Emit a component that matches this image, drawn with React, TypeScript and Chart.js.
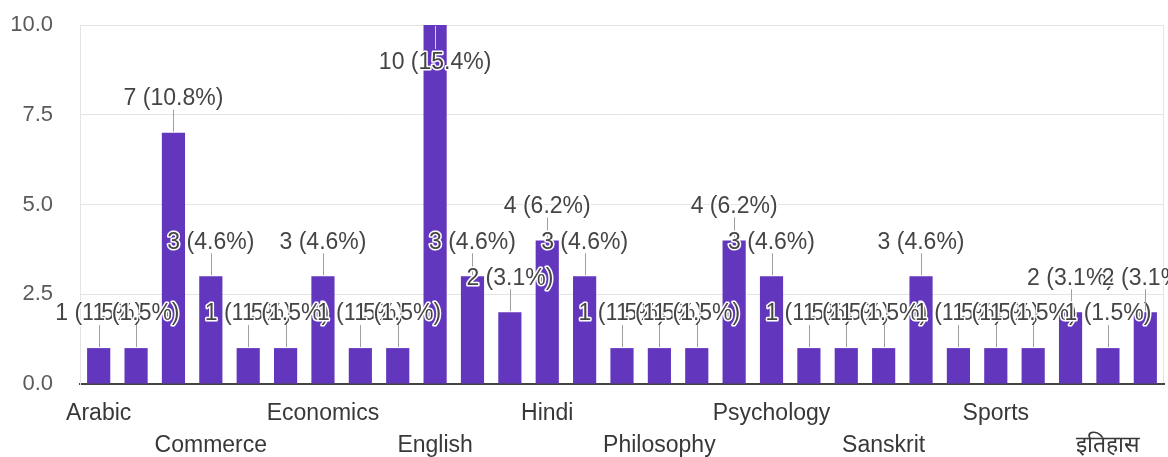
import React, { useEffect, useRef } from "react";
import { Chart, registerables } from "chart.js";

Chart.register(...registerables);

// Categories (only every third one is readable/shown on the axis)
const subjects: string[] = [
  "Arabic", "Bengali", "Chemistry",
  "Commerce", "Computer Science", "Drawing",
  "Economics", "Education", "Electronics",
  "English", "French", "Geography",
  "Hindi", "History", "Music",
  "Philosophy", "Physics", "Political Science",
  "Psychology", "Public Administration", "Punjabi",
  "Sanskrit", "Sociology", "Spanish",
  "Sports", "Statistics", "Urdu",
  "इतिहास", "हिंदी",
];

const counts: number[] = [
  1, 1, 7,
  3, 1, 1,
  3, 1, 1,
  10, 3, 2,
  4, 3, 1,
  1, 1, 4,
  3, 1, 1,
  1, 3, 1,
  1, 1, 2,
  1, 2,
];

const yTicks: number[] = [0, 2.5, 5, 7.5, 10];

const FONT = '"Liberation Sans", Arial, sans-serif';
const BAR_COLOR = "#6236bd";

const total = counts.reduce((a, b) => a + b, 0);

const labelPlugin = {
  id: "annotLabels",
  beforeDraw(chart: any) {
    const { ctx, chartArea } = chart;
    ctx.save();
    ctx.strokeStyle = "#e4e4e4";
    ctx.lineWidth = 1;
    ctx.beginPath();
    ctx.moveTo(Math.round(chartArea.right) - 0.5, chartArea.top);
    ctx.lineTo(Math.round(chartArea.right) - 0.5, chartArea.bottom);
    ctx.stroke();
    ctx.restore();
  },
  afterDatasetsDraw(chart: any) {
    const { ctx, chartArea } = chart;
    const meta = chart.getDatasetMeta(0);
    ctx.save();
    ctx.font = `23px ${FONT}`;
    ctx.textAlign = "center";
    ctx.textBaseline = "middle";
    ctx.lineJoin = "round";
    meta.data.forEach((bar: any, i: number) => {
      const v = counts[i];
      const pct = ((v / total) * 100).toFixed(1);
      const text = `${v} (${pct}%)`;
      const x = bar.x;
      const top = bar.y;
      let cy = top - 34;
      let inside = false;
      if (cy - 12 < chartArea.top) {
        inside = true;
        cy = top + 38;
      }
      ctx.lineWidth = 1;
      ctx.strokeStyle = inside ? "rgba(255,255,255,0.75)" : "#a0a0a0";
      ctx.beginPath();
      const xx = Math.round(x) + 0.5;
      if (inside) {
        ctx.moveTo(xx, top + 1);
        ctx.lineTo(xx, top + 24);
      } else {
        ctx.moveTo(xx, top - 1);
        ctx.lineTo(xx, top - 23);
      }
      ctx.stroke();
      ctx.lineWidth = 3;
      ctx.strokeStyle = "#ffffff";
      ctx.strokeText(text, x, cy);
      ctx.fillStyle = "#454545";
      ctx.fillText(text, x, cy);
    });
    ctx.restore();
  },
};

export default function App() {
  const ref = useRef<HTMLCanvasElement | null>(null);

  useEffect(() => {
    if (!ref.current) return;
    const chart = new Chart(ref.current, {
      type: "bar",
      data: {
        labels: subjects,
        datasets: [
          {
            data: counts,
            backgroundColor: BAR_COLOR,
            borderWidth: 0,
            barPercentage: 0.62,
            categoryPercentage: 1,
          },
        ],
      },
      options: {
        responsive: false,
        animation: false,
        devicePixelRatio: 1,
        layout: { padding: { top: 25, right: 4, left: 0, bottom: 0 } },
        plugins: {
          legend: { display: false },
          tooltip: { enabled: false },
        },
        scales: {
          x: {
            afterFit: (s: any) => {
              s.height = 73;
              s.paddingLeft = 0;
              s.paddingRight = 0;
            },
            grid: { display: false, drawTicks: false },
            border: { display: true, color: "#444444", width: 2 },
            ticks: {
              autoSkip: false,
              maxRotation: 0,
              minRotation: 0,
              padding: 14,
              color: "#383838",
              font: { family: FONT, size: 23, lineHeight: 32 / 23 },
              callback: (_v: any, i: number) =>
                i % 3 !== 0 ? "" : i % 6 === 0 ? subjects[i] : ["", subjects[i]],
            },
          },
          y: {
            min: 0,
            max: 10,
            afterFit: (s: any) => {
              s.width = 80;
              s.paddingTop = 0;
              s.paddingBottom = 0;
            },
            afterBuildTicks: (s: any) => {
              s.ticks = yTicks.map((v) => ({ value: v }));
            },
            grid: {
              drawTicks: false,
              color: (c: any) => (c.tick && c.tick.value === 0 ? "rgba(0,0,0,0)" : "#e4e4e4"),
              lineWidth: 1,
            },
            border: { display: true, color: "#e4e4e4", width: 1 },
            ticks: {
              padding: 27,
              color: "#5a5a5a",
              font: { family: FONT, size: 22 },
              callback: (v: any) => Number(v).toFixed(1),
            },
          },
        },
      },
      plugins: [labelPlugin],
    });
    return () => chart.destroy();
  }, []);

  return (
    <div style={{ position: "absolute", left: 0, top: 0, width: 1168, height: 457, background: "#fff" }}>
      <canvas ref={ref} width={1168} height={457} style={{ width: 1168, height: 457 }} />
    </div>
  );
}
